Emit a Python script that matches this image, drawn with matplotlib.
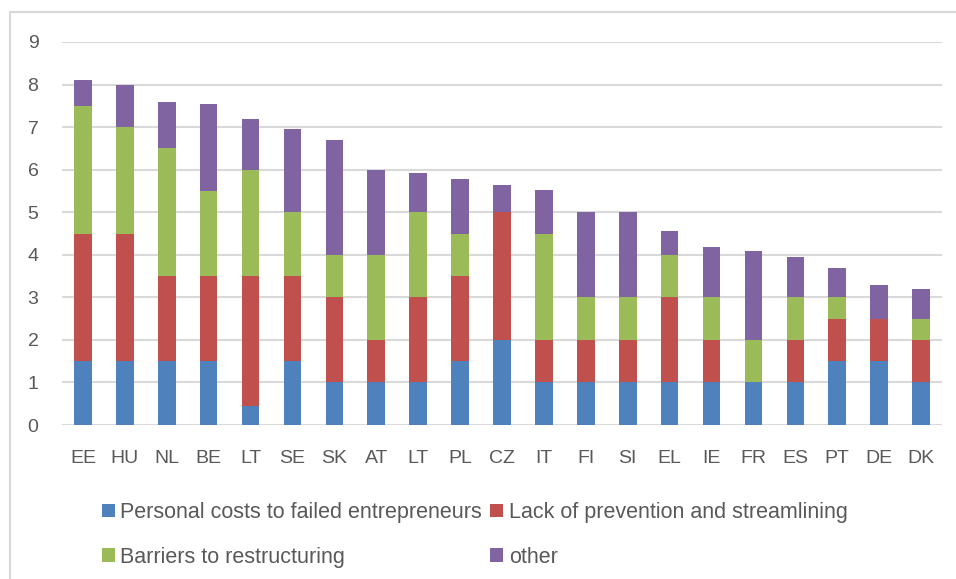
import numpy as np
import matplotlib.pyplot as plt
from matplotlib.patches import Rectangle

plt.rcParams['font.family'] = ['Liberation Sans', 'DejaVu Sans']

# data
countries = ['EE', 'HU', 'NL', 'BE', 'LT', 'SE', 'SK', 'AT', 'LT', 'PL', 'CZ',
             'IT', 'FI', 'SI', 'EL', 'IE', 'FR', 'ES', 'PT', 'DE', 'DK']
personal = [1.5, 1.5, 1.5, 1.5, 0.45, 1.5, 1, 1, 1, 1.5, 2,
            1, 1, 1, 1, 1, 1, 1, 1.5, 1.5, 1]
prevention = [3, 3, 2, 2, 3.05, 2, 2, 1, 2, 2, 3,
              1, 1, 1, 2, 1, 0, 1, 1, 1, 1]
barriers = [3, 2.5, 3, 2, 2.5, 1.5, 1, 2, 2, 1, 0,
            2.5, 1, 1, 1, 1, 1, 1, 0.5, 0, 0.5]
other = [0.6, 1.0, 1.1, 2.05, 1.2, 1.95, 2.7, 2, 0.92, 1.27, 0.63,
         1.03, 2, 2, 0.57, 1.18, 2.09, 0.94, 0.7, 0.78, 0.69]

series = [personal, prevention, barriers, other]
names = ['Personal costs to failed entrepreneurs', 'Lack of prevention and streamlining',
         'Barriers to restructuring', 'other']
colors = ['#4f81bd', '#c0504d', '#9bbb59', '#8064a2']

fig = plt.figure(figsize=(9.56, 5.79), dpi=100)
ax = fig.add_axes([62 / 956, 1 - 425 / 579, 880 / 956, 383 / 579])

x = np.arange(len(countries))
bottom = np.zeros(len(countries))
bars = []
for vals, name, c in zip(series, names, colors):
    bars.append(ax.bar(x, vals, 0.42, bottom=bottom, color=c, label=name, zorder=3))
    bottom += np.array(vals)

ax.set_xlim(-0.5, len(countries) - 0.5)
ax.set_ylim(0, 9)
ax.set_yticks(range(10))
ax.set_xticks(x)
ax.set_xticklabels(countries)
ax.grid(axis='y', color='#d9d9d9', linewidth=1.5, zorder=0)
for s in ax.spines.values():
    s.set_visible(False)
ax.tick_params(length=0, labelsize=14, colors='#595959')
ax.tick_params(axis='y', pad=17)
ax.tick_params(axis='x', pad=18)

# legend filled row by row: (personal, lack) / (barriers, other)
order = [0, 2, 1, 3]
fig.legend([bars[i] for i in order], [names[i] for i in order],
           loc='center left', bbox_to_anchor=(91 / 956, 1 - 535 / 579), ncol=2,
           frameon=False, borderpad=0, fontsize=15.5, labelcolor='#595959',
           handlelength=0.6, handleheight=0.6, handletextpad=0.25,
           columnspacing=0.4, labelspacing=1.1)

# light frame around the chart area
fig.add_artist(Rectangle((10 / 956, -0.1), 1.1, 1 - 12 / 579 + 0.1, transform=fig.transFigure,
                         fill=False, edgecolor='#d9d9d9', linewidth=1.5))

fig.savefig('out.png', dpi=100)
